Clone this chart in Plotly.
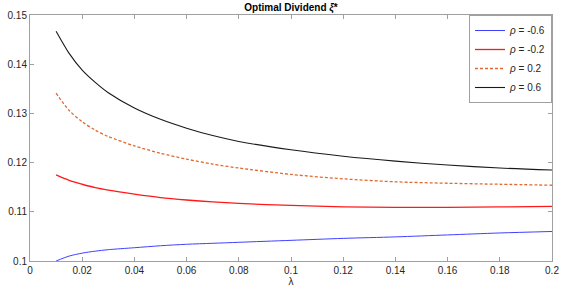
import plotly.graph_objects as go

lam = [0.01, 0.015, 0.02, 0.025, 0.03, 0.04, 0.05, 0.06, 0.07, 0.08, 0.10, 0.12, 0.14, 0.16, 0.18, 0.20]
xi_m06 = [0.1000, 0.1010, 0.1016, 0.1020, 0.1023, 0.1027, 0.1031, 0.1034, 0.1036, 0.1038, 0.1042, 0.1046, 0.1049, 0.1053, 0.1057, 0.1060]
xi_m02 = [0.1175, 0.1164, 0.1156, 0.1149, 0.1144, 0.1136, 0.1129, 0.1124, 0.1120, 0.1117, 0.1113, 0.1110, 0.1109, 0.1109, 0.1110, 0.1111]
xi_p02 = [0.1341, 0.1306, 0.1283, 0.1266, 0.1253, 0.1234, 0.1219, 0.1207, 0.1197, 0.1189, 0.1176, 0.1167, 0.1161, 0.1158, 0.1156, 0.1154]
xi_p06 = [0.1467, 0.1422, 0.1388, 0.1363, 0.1342, 0.1311, 0.1288, 0.1270, 0.1255, 0.1243, 0.1226, 0.1213, 0.1203, 0.1195, 0.1189, 0.1185]
names = ["<i>ρ</i> = -0.6", "<i>ρ</i> = -0.2", "<i>ρ</i> = 0.2", "<i>ρ</i> = 0.6"]
x_ticks = [0, 0.02, 0.04, 0.06, 0.08, 0.1, 0.12, 0.14, 0.16, 0.18, 0.2]
x_labels = ["0", "0.02", "0.04", "0.06", "0.08", "0.1", "0.12", "0.14", "0.16", "0.18", "0.2"]
y_ticks = [0.1, 0.11, 0.12, 0.13, 0.14, 0.15]
y_labels = ["0.1", "0.11", "0.12", "0.13", "0.14", "0.15"]

styles = [
    dict(color="#4040ff", width=1, dash="solid"),
    dict(color="#ff1a1a", width=1.3, dash="solid"),
    dict(color="#e2692e", width=1.3, dash="3px,2px"),
    dict(color="#1a1a1a", width=1.1, dash="solid"),
]

fig = go.Figure()
for ys, nm, st in zip([xi_m06, xi_m02, xi_p02, xi_p06], names, styles):
    fig.add_trace(go.Scatter(x=lam, y=ys, mode="lines", name=nm, line=dict(shape="spline", smoothing=0.8, **st)))

axis_common = dict(
    showline=True, linecolor="#a0a0a0", linewidth=1, mirror="ticks", automargin=False,
    ticks="inside", ticklen=4, tickcolor="#a0a0a0", showgrid=False, zeroline=False,
    tickfont=dict(family="Liberation Sans, Arial, sans-serif", size=10, color="#262626"),
)
fig.update_xaxes(range=[0, 0.2], tickvals=x_ticks, ticktext=x_labels,
                 title=dict(text="λ", font=dict(size=10, color="#262626"), standoff=2), **axis_common)
fig.update_yaxes(range=[0.1, 0.15], tickvals=y_ticks, ticktext=y_labels, **axis_common)

fig.update_layout(
    width=581, height=291,
    margin=dict(l=30, r=29, t=15, b=30),
    paper_bgcolor="white", plot_bgcolor="white",
    font=dict(family="Liberation Sans, Arial, sans-serif", size=10, color="#262626"),
    title=dict(text="<b>Optimal Dividend <i>ξ</i>*</b>", x=0.5, xref="paper", y=0.985, yanchor="top",
               automargin=False, font=dict(size=10, color="#000")),
    legend=dict(x=1, xanchor="right", y=1, yanchor="top", bgcolor="white",
                bordercolor="#a0a0a0", borderwidth=1, font=dict(size=10),
                tracegroupgap=0, itemwidth=30),
    showlegend=True,
)
fig.write_html("out.html", config={"displayModeBar": False},
               post_script="document.body.style.margin='0';")
